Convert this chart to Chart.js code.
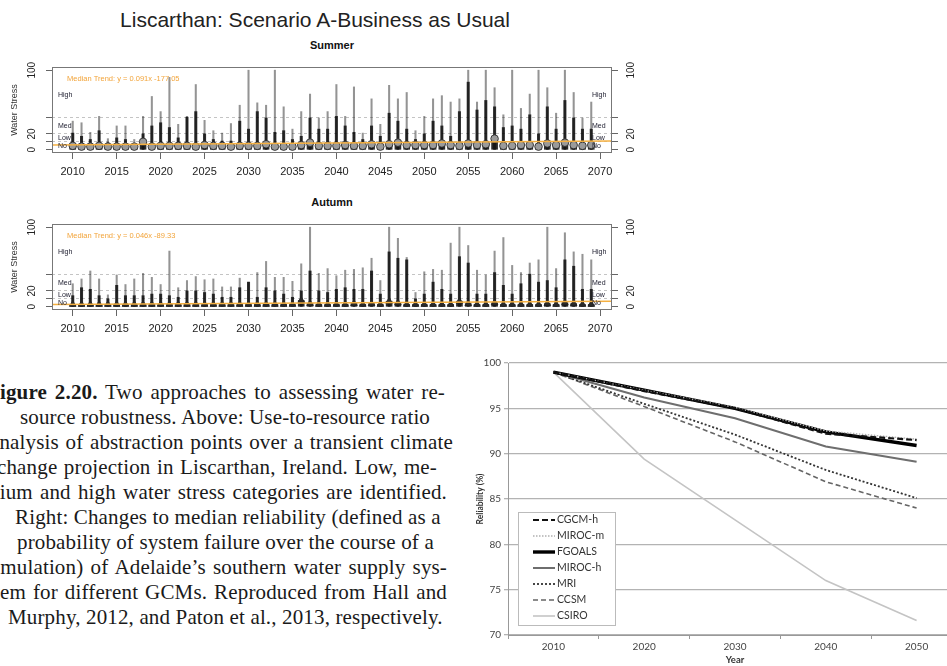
<!DOCTYPE html>
<html>
<head>
<meta charset="utf-8">
<script src="https://cdn.jsdelivr.net/npm/chart.js@4.4.0/dist/chart.umd.min.js"></script>
<style>
    html, body { margin: 0; padding: 0; background: #fff; }
    body { width: 947px; height: 666px; position: relative; overflow: hidden; font-family: "Liberation Sans", Arial, sans-serif; }
    canvas, .txt { position: absolute; }
    #main-title { left: 120px; width: 390px; top: 8px; text-align: center; font-size: 21px; color: #222; white-space: nowrap; }
    .panel-title { left: 232px; width: 200px; text-align: center; font-size: 11px; font-weight: bold; color: #111; }
    .cap { font-family: "Liberation Serif", "Times New Roman", serif; font-size: 21px; letter-spacing: 0.15px; line-height: 25px; height: 25px; color: #1a1a1a; white-space: nowrap; text-align: justify; text-align-last: justify; overflow: visible; }
</style>
</head>
<body>
<div class="txt" id="main-title">Liscarthan: Scenario A-Business as Usual</div>
<div class="txt panel-title" style="top:39px">Summer</div>
<canvas id="summer-chart" width="660" height="130" style="left:0;top:56px"></canvas>
<div class="txt panel-title" style="top:196px">Autumn</div>
<canvas id="autumn-chart" width="660" height="130" style="left:0;top:213px"></canvas>
<canvas id="reliability-chart" width="495" height="326" style="left:470px;top:340px"></canvas>
<div id="caption"></div>

<script>
// bean plots (water stress per year)
const years = [2010, 2011, 2012, 2013, 2014, 2015, 2016, 2017, 2018, 2019,
    2020, 2021, 2022, 2023, 2024, 2025, 2026, 2027, 2028, 2029,
    2030, 2031, 2032, 2033, 2034, 2035, 2036, 2037, 2038, 2039,
    2040, 2041, 2042, 2043, 2044, 2045, 2046, 2047, 2048, 2049,
    2050, 2051, 2052, 2053, 2054, 2055, 2056, 2057, 2058, 2059,
    2060, 2061, 2062, 2063, 2064, 2065, 2066, 2067, 2068, 2069];
const xTickYears = [2010, 2015, 2020, 2025, 2030, 2035, 2040, 2045, 2050, 2055, 2060, 2065, 2070];
const yTickValues = [0, 10, 20, 40, 100];
const yTickLabels = ['0', '', '20', '', '100'];
const stressBounds = [10, 20, 40];
const zoneNames = ['High', 'Med', 'Low', 'No'];
const zoneLabelValues = [69, 30, 14.5, 5];

const summerMax = [36, 34, 22, 42, 14, 30, 30, 13, 42, 67,
    48, 91, 32, 42, 82, 37, 24, 21, 33, 56,
    100, 59, 56, 100, 54, 26, 48, 70, 40, 48,
    82, 42, 79, 21, 64, 32, 81, 64, 72, 24,
    42, 64, 68, 60, 64, 100, 60, 100, 78, 44,
    100, 52, 70, 100, 78, 46, 100, 72, 40, 60];
const summerUpper = [21, 17, 13, 24, 9, 15, 13, 7, 20, 30,
    34, 28, 15, 41, 48, 20, 13, 11, 11, 36,
    26, 48, 40, 22, 24, 13, 17, 40, 26, 26,
    42, 30, 22, 13, 30, 17, 46, 36, 26, 13,
    20, 36, 30, 17, 48, 85, 50, 62, 54, 28,
    30, 26, 44, 20, 54, 26, 62, 40, 26, 26];
const summerMedian = [5, 4, 4, 5, 4, 4, 4, 4, 10, 4,
    5, 5, 5, 5, 4, 6, 5, 5, 4, 5,
    5, 5, 7, 4, 4, 4, 6, 9, 5, 5,
    5, 6, 5, 5, 7, 4, 7, 9, 6, 6,
    6, 6, 8, 6, 5, 8, 6, 7, 14, 5,
    5, 6, 6, 4, 8, 6, 9, 6, 5, 6];
const summerTrend = [6, 11];
const autumnMax = [29, 35, 45, 35, 15, 40, 28, 35, 42, 37,
    28, 70, 24, 33, 38, 34, 35, 25, 25, 36,
    31, 43, 57, 37, 37, 32, 54, 100, 42, 48,
    39, 46, 47, 49, 61, 33, 100, 86, 62, 18,
    44, 47, 46, 80, 100, 77, 46, 40, 70, 87,
    52, 43, 55, 59, 100, 48, 93, 69, 66, 59];
const autumnUpper = [14, 24, 22, 14, 10, 27, 14, 14, 14, 16,
    16, 14, 12, 20, 20, 18, 16, 12, 12, 24,
    31, 12, 24, 20, 16, 12, 20, 45, 20, 18,
    22, 24, 22, 22, 45, 16, 69, 61, 59, 10,
    16, 31, 22, 16, 63, 55, 16, 16, 43, 27,
    16, 29, 41, 31, 33, 24, 59, 51, 22, 22];
const autumnMedian = [3, 3, 3, 3, 3, 3, 3, 3, 3, 3,
    3, 3, 3, 3, 3, 3, 3, 3, 3, 3,
    3, 3, 3, 3, 3, 3, 8, 4, 3, 3,
    3, 3, 4, 3, 4, 3, 7, 5, 3, 3,
    3, 3, 3, 3, 7, 4, 3, 3, 5, 3,
    3, 3, 3, 3, 4, 3, 5, 4, 3, 3];
const autumnTrend = [3, 7];

// reliability lines
const reliabilityYears = ['2010', '2020', '2030', '2040', '2050'];
const cgcmH = [99, 96.9, 95, 92.2, 91.5];
const mirocM = [99, 97, 95.1, 92.5, 91.6];
const fgoals = [99, 97, 95, 92.4, 90.9];
const mirocH = [99, 96.2, 93.9, 90.8, 89.1];
const mri = [99, 95.5, 92.1, 88.2, 85.1];
const ccsm = [99, 95.2, 91.3, 86.9, 84];
const csiro = [99, 89.4, 82.7, 76, 71.6];

// caption, justified between a start and an end x like the book column (left part cut off)
const captionLines = [
    '<b>Figure 2.20.</b> Two approaches to assessing water re-',
    'source robustness. Above: Use-to-resource ratio',
    'analysis of abstraction points over a transient climate',
    'change projection in Liscarthan, Ireland. Low, me-',
    'dium and high water stress categories are identified.',
    'Right: Changes to median reliability (defined as a',
    'probability of system failure over the course of a',
    'simulation) of Adelaide’s southern water supply sys-',
    'tem for different GCMs. Reproduced from Hall and',
    'Murphy, 2012, and Paton et al., 2013,  respectively.'
];
const captionLeft = [-13, 20, -10, -3, -11, 15, 17, -14, -6, 8];
const captionRight = [445, 430, 453, 437, 447, 437, 433, 447, 447, 432];

Chart.defaults.animation = false;
Chart.defaults.font.family = '"Liberation Sans", Arial, sans-serif';

const caption = document.getElementById('caption');
captionLines.forEach((line, i) => {
    const div = document.createElement('div');
    div.className = 'txt cap';
    div.style.top = (380 + i * 25) + 'px';
    div.style.left = captionLeft[i] + 'px';
    div.style.width = (captionRight[i] - captionLeft[i]) + 'px';
    div.innerHTML = line;
    caption.appendChild(div);
});

const panelDecor = {
    id: 'panelDecor',
    afterDatasetsDraw(chart, args, opts) {
        const {ctx, chartArea: area, scales} = chart;
        const y = scales.y;
        ctx.save();
        ctx.strokeStyle = '#777';
        ctx.lineWidth = 1;
        ctx.strokeRect(area.left + 0.5, area.top + 0.5, area.width - 1, area.height - 1);
        ctx.font = '7px "Liberation Sans", Arial, sans-serif';
        ctx.fillStyle = '#223';
        ctx.textBaseline = 'middle';
        zoneNames.forEach((name, i) => {
            const py = y.getPixelForValue(zoneLabelValues[i]);
            ctx.fillText(name, area.left + 6, py);
            ctx.fillText(name, area.right - 20, py);
        });
        ctx.fillStyle = '#f2a43a';
        ctx.font = '7.5px "Liberation Sans", Arial, sans-serif';
        ctx.fillText(opts.trendText, area.left + 15, y.getPixelForValue(89.5));
        ctx.restore();
    }
};

function beanDatasets(maxVals, upperVals, medians, trend, medianStyle) {
    return [
        {
            type: 'line',
            data: [{x: 2007.64, y: trend[0]}, {x: 2071.36, y: trend[1]}],
            borderColor: '#f5b041', borderWidth: 1.6, pointRadius: 0, order: 0
        },
        {
            type: 'scatter',
            data: years.map((yr, i) => ({x: yr, y: medians[i]})),
            pointStyle: medianStyle.shape, pointRadius: 3.8,
            backgroundColor: medianStyle.fill, borderColor: '#222', borderWidth: 0.8, order: 1
        },
        {
            type: 'bar', stack: 'bean',
            data: years.map((yr, i) => ({x: yr, y: [0, medians[i]]})),
            backgroundColor: 'rgba(20,20,20,0.9)', barThickness: 6, order: 2
        },
        {
            type: 'bar', stack: 'bean',
            data: years.map((yr, i) => ({x: yr, y: [0, upperVals[i]]})),
            backgroundColor: 'rgba(0,0,0,0.78)', barThickness: 2.4, order: 3
        },
        {
            type: 'bar', stack: 'bean',
            data: years.map((yr, i) => ({x: yr, y: [0, maxVals[i]]})),
            backgroundColor: 'rgba(0,0,0,0.42)', barThickness: 1.4, order: 4
        }
    ];
}

function stressAxis(position) {
    const left = position === 'left';
    return {
        type: 'linear', position: position, min: -4, max: 104, stacked: false,
        afterBuildTicks: s => { s.ticks = yTickValues.map(v => ({value: v})); },
        afterFit: s => { s.width = left ? 52 : 48; },
        ticks: {
            autoSkip: false, minRotation: 90, maxRotation: 90, crossAlign: 'center', padding: 5,
            font: {size: 10}, color: '#222',
            callback: v => yTickLabels[yTickValues.indexOf(v)]
        },
        grid: {
            drawOnChartArea: left,
            color: c => (c.tick && stressBounds.includes(c.tick.value)) ? '#c4c4c4' : 'rgba(0,0,0,0)',
            tickColor: '#666', tickLength: 6, lineWidth: 1
        },
        border: {display: false, dash: [3, 3]},
        title: {display: left, text: 'Water Stress', font: {size: 9}, color: '#333', padding: {top: 9}}
    };
}

function stressPanel(canvasId, maxVals, upperVals, medians, trend, trendText, medianStyle) {
    new Chart(document.getElementById(canvasId), {
        type: 'bar',
        data: {datasets: beanDatasets(maxVals, upperVals, medians, trend, medianStyle)},
        options: {
            responsive: false,
            devicePixelRatio: 1,
            layout: {padding: {top: 8, left: 0, right: 0, bottom: 0}},
            plugins: {legend: {display: false}, tooltip: {enabled: false}, panelDecor: {trendText: trendText}},
            scales: {
                x: {
                    type: 'linear', min: 2007.64, max: 2071.36, offset: false,
                    afterBuildTicks: s => { s.ticks = xTickYears.map(v => ({value: v})); },
                    afterFit: s => { s.height = 33; },
                    ticks: {autoSkip: false, maxRotation: 0, padding: 6, font: {size: 11}, color: '#222', callback: v => String(v)},
                    grid: {drawOnChartArea: false, offset: false, tickLength: 6, tickColor: '#666'},
                    border: {display: false}
                },
                y: stressAxis('left'),
                y2: stressAxis('right')
            }
        },
        plugins: [panelDecor]
    });
}

stressPanel('summer-chart', summerMax, summerUpper, summerMedian, summerTrend,
    'Median Trend: y = 0.091x -177.05', {shape: 'circle', fill: '#9a9a9a'});
stressPanel('autumn-chart', autumnMax, autumnUpper, autumnMedian, autumnTrend,
    'Median Trend: y = 0.046x -89.33', {shape: 'triangle', fill: '#2a2a2a'});

// legend drawn as a framed box inside the plot, like the original
const legendBox = {
    id: 'legendBox',
    afterDraw(chart) {
        const {ctx, chartArea: area} = chart;
        const bx = area.left + 10, by = area.top + 149;
        ctx.save();
        ctx.fillStyle = '#fff';
        ctx.fillRect(bx, by, 97, 113);
        ctx.strokeStyle = '#bbb';
        ctx.lineWidth = 1;
        ctx.strokeRect(bx + 0.5, by + 0.5, 97, 113);
        ctx.font = '10.5px Lato, "Liberation Sans", sans-serif';
        ctx.textBaseline = 'middle';
        chart.data.datasets.forEach((ds, i) => {
            const ly = by + 8 + i * 16;
            ctx.strokeStyle = ds.borderColor;
            ctx.lineWidth = ds.borderWidth;
            ctx.setLineDash(ds.borderDash || []);
            ctx.beginPath();
            ctx.moveTo(bx + 15, ly);
            ctx.lineTo(bx + 37, ly);
            ctx.stroke();
            ctx.setLineDash([]);
            ctx.fillStyle = '#333';
            ctx.fillText(ds.label, bx + 39, ly);
        });
        ctx.restore();
    }
};

new Chart(document.getElementById('reliability-chart'), {
    type: 'line',
    data: {
        labels: reliabilityYears,
        datasets: [
            {label: 'CGCM-h', data: cgcmH, borderColor: '#111', borderWidth: 2.2, borderDash: [6, 3]},
            {label: 'MIROC-m', data: mirocM, borderColor: '#b0b0b0', borderWidth: 1.4, borderDash: [1.5, 1.5]},
            {label: 'FGOALS', data: fgoals, borderColor: '#000', borderWidth: 3.4},
            {label: 'MIROC-h', data: mirocH, borderColor: '#6e6e6e', borderWidth: 2},
            {label: 'MRI', data: mri, borderColor: '#333', borderWidth: 1.8, borderDash: [2, 2]},
            {label: 'CCSM', data: ccsm, borderColor: '#666', borderWidth: 1.6, borderDash: [5, 3]},
            {label: 'CSIRO', data: csiro, borderColor: '#c4c4c4', borderWidth: 1.6}
        ]
    },
    options: {
        responsive: false,
        devicePixelRatio: 1,
        layout: {padding: {top: 23, right: 3, left: 0, bottom: 0}},
        elements: {point: {radius: 0}, line: {tension: 0}},
        plugins: {legend: {display: false}, tooltip: {enabled: false}},
        scales: {
            x: {
                offset: true,
                afterFit: s => { s.height = 31; },
                grid: {offset: true, drawOnChartArea: false, tickLength: 4, color: '#999'},
                border: {color: '#999'},
                ticks: {padding: 2, font: {size: 10, family: 'Lato, "Liberation Sans", sans-serif'}, color: '#444'},
                title: {display: true, text: 'Year', font: {size: 9.5, weight: 'bold', family: 'Lato, "Liberation Sans", sans-serif'}, color: '#333', padding: {top: 0, bottom: 0}}
            },
            y: {
                min: 70, max: 100,
                afterFit: s => { s.width = 38; },
                ticks: {stepSize: 5, padding: 3, font: {size: 10, family: 'Lato, "Liberation Sans", sans-serif'}, color: '#444'},
                grid: {color: '#b3b3b3', lineWidth: 1.3, tickLength: 4},
                border: {color: '#999'},
                title: {display: true, text: 'Reliability (%)', font: {size: 8.5, weight: 'bold', family: 'Lato, "Liberation Sans", sans-serif'}, color: '#333', padding: {top: 5}}
            }
        }
    },
    plugins: [legendBox]
});
</script>
</body>
</html>
